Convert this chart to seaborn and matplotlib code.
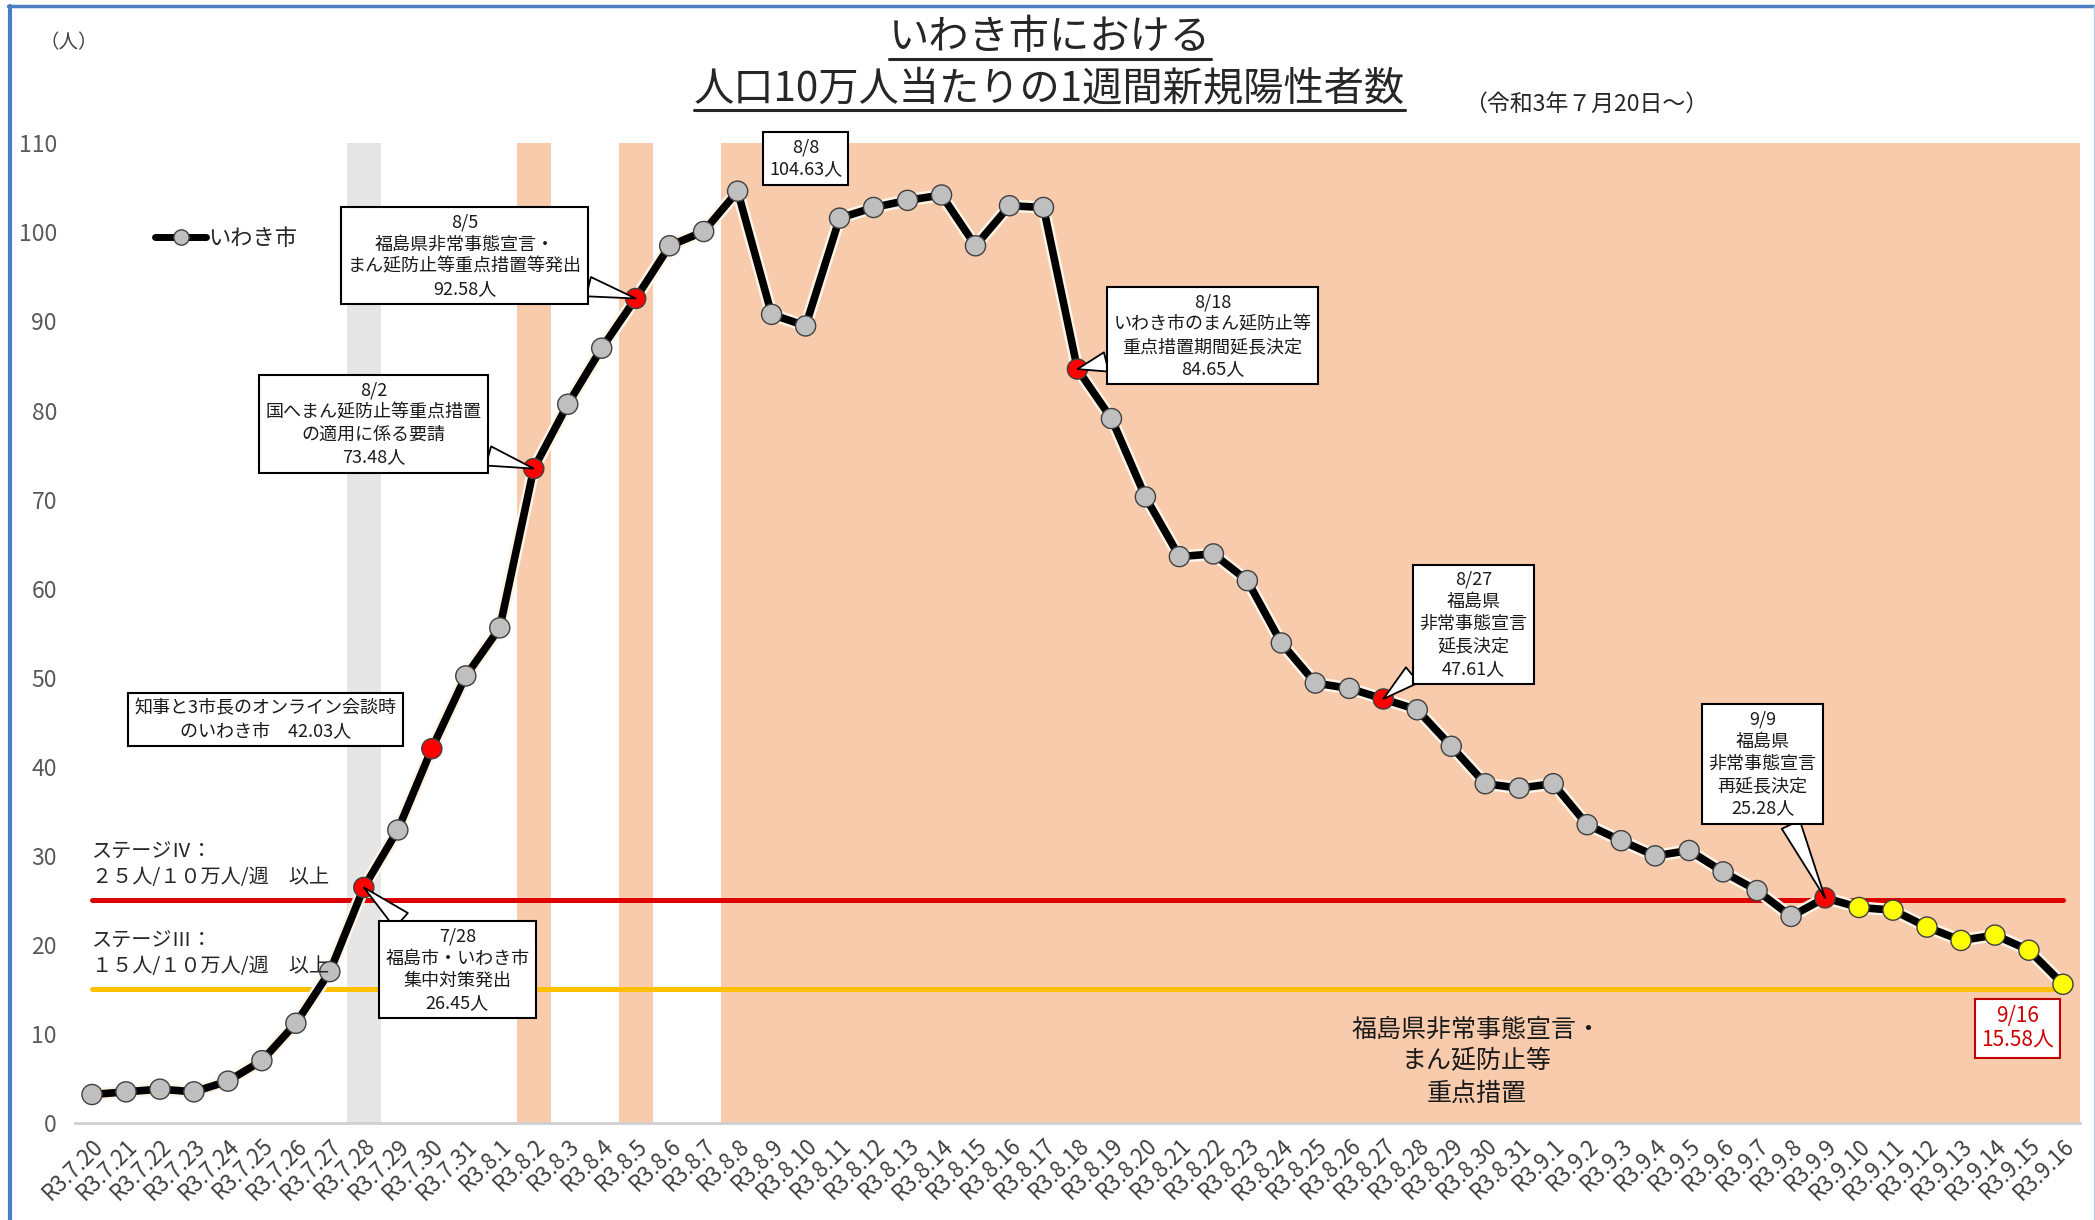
#!/usr/bin/env python3
import pandas as pd
import seaborn as sns
import matplotlib.pyplot as plt
import matplotlib.patheffects as pe
from matplotlib.lines import Line2D

# dates (R3 = 令和3年)
dates = ([f"R3.7.{d}" for d in range(20, 32)]
         + [f"R3.8.{d}" for d in range(1, 32)]
         + [f"R3.9.{d}" for d in range(1, 17)])

# weekly new positives per 100k people, iwaki city
values = [3.2, 3.5, 3.8, 3.5, 4.7, 7.0, 11.2, 17.0, 26.45, 32.9, 42.03, 50.2,
          55.6, 73.48, 80.7, 87.0, 92.58, 98.5, 100.1, 104.63, 90.8, 89.5,
          101.6, 102.8, 103.6, 104.2, 98.5, 103.0, 102.8, 84.65, 79.1, 70.3,
          63.6, 63.9, 60.9, 53.9, 49.4, 48.8, 47.61, 46.4, 42.3, 38.1, 37.6,
          38.1, 33.5, 31.7, 30.0, 30.6, 28.2, 26.1, 23.2, 25.28,
          24.2, 23.9, 22.0, 20.5, 21.1, 19.4, 15.58]

event_dates = ["R3.7.28", "R3.7.30", "R3.8.2", "R3.8.5", "R3.8.18", "R3.8.27", "R3.9.9"]
recent_from = "R3.9.10"

gray_days = ["R3.7.28"]
orange_days = ["R3.8.2", "R3.8.5"]
orange_from = "R3.8.8"

stage4 = 25
stage3 = 15

df = pd.DataFrame({'date': dates, 'value': values})
df['pos'] = range(len(df))
recent_idx = dates.index(recent_from)
df['kind'] = ['event' if d in event_dates else ('recent' if i >= recent_idx else 'normal')
              for i, d in enumerate(dates)]

sns.set_style('white')
plt.rcParams['font.family'] = ['Noto Sans CJK JP', 'DejaVu Sans']

fig = plt.figure(figsize=(20.95, 12.2), dpi=100)
ax = fig.add_axes([0.0358, 0.0795, 0.957, 0.803])

# shaded periods
for d in gray_days:
    i = dates.index(d)
    ax.axvspan(i - 0.5, i + 0.5, color='#E6E6E6', lw=0, zorder=0)
for d in orange_days:
    i = dates.index(d)
    ax.axvspan(i - 0.5, i + 0.5, color='#F8CBAD', lw=0, zorder=0)
ax.axvspan(dates.index(orange_from) - 0.5, len(dates) - 0.5, color='#F8CBAD', lw=0, zorder=0)

# stage lines
ax.plot([0, len(dates) - 1], [stage4, stage4], color='#DD0000', lw=3.6, zorder=2, solid_capstyle='round')
ax.plot([0, len(dates) - 1], [stage3, stage3], color='#FFC000', lw=3.6, zorder=2, solid_capstyle='round')

# main line
sns.lineplot(data=df, x='pos', y='value', color='black', lw=5.5, ax=ax, zorder=3,
             path_effects=[pe.Stroke(linewidth=9, foreground='#FFF4E6'), pe.Normal()])
sns.scatterplot(data=df, x='pos', y='value', hue='kind',
                palette={'normal': '#BFBFBF', 'event': '#FF0000', 'recent': '#FFFF00'},
                s=210, edgecolor='#404040', linewidth=1.0, legend=False, ax=ax, zorder=4)

ax.set_xlim(-0.5, len(dates) - 0.5)
ax.set_ylim(0, 110)
ax.set_yticks(range(0, 111, 10))
ax.set_xticks(range(len(dates)))
ax.set_xticklabels(dates, rotation=45, ha='right', rotation_mode='anchor',
                   fontsize=16, color='#404040')
ax.set_xticks([i + 0.5 for i in range(-1, len(dates))], minor=True)
ax.tick_params(axis='x', which='major', length=0, pad=8)
ax.tick_params(axis='x', which='minor', length=5, width=1.5, color='#D0D0D0', direction='out')
ax.tick_params(axis='y', length=0, pad=13, labelsize=16.5, labelcolor='#595959')
ax.set_xlabel('')
ax.set_ylabel('')
for s in ['top', 'right', 'left']:
    ax.spines[s].set_visible(False)
ax.spines['bottom'].set_color('#D0D0D0')
ax.spines['bottom'].set_linewidth(2)

# legend
handle = Line2D([], [], color='black', lw=5, marker='o', markersize=11,
                markerfacecolor='#BFBFBF', markeredgecolor='#404040')
ax.legend([handle], ['いわき市'], loc='center left', bbox_to_anchor=(0.040, 0.903),
          frameon=False, fontsize=16, handlelength=2.3, handletextpad=0.1,
          borderpad=0, borderaxespad=0)

box = dict(boxstyle='square,pad=0.35', fc='white', ec='black', lw=1.5)
txt_kw = dict(fontsize=13, ha='center', va='center', linespacing=1.3, color='#1A1A1A', zorder=6)
arrow = dict(arrowstyle='wedge,tail_width=1.1', fc='white', ec='black', lw=1.3, shrinkA=0, shrinkB=0)

# callouts pointing at points
callouts = [
    ("R3.8.5", "8/5\n福島県非常事態宣言・\nまん延防止等重点措置等発出\n92.58人", (10.96, 97.4)),
    ("R3.8.2", "8/2\n国へまん延防止等重点措置\nの適用に係る要請\n73.48人", (8.28, 78.5)),
    ("R3.8.18", "8/18\nいわき市のまん延防止等\n重点措置期間延長決定\n84.65人", (32.97, 88.4)),
    ("R3.7.28", "7/28\n福島市・いわき市\n集中対策発出\n26.45人", (10.75, 17.2)),
    ("R3.8.27", "8/27\n福島県\n非常事態宣言\n延長決定\n47.61人", (40.65, 56.0)),
    ("R3.9.9", "9/9\n福島県\n非常事態宣言\n再延長決定\n25.28人", (49.16, 40.3)),
]
for d, label, xytext in callouts:
    i = dates.index(d)
    ax.annotate(label, xy=(i, values[i]), xytext=xytext, textcoords='data',
                bbox=box, arrowprops=arrow, **txt_kw)

ax.text(21.0, 108.3, "8/8\n104.63人", bbox=box, clip_on=False, **txt_kw)
ax.text(5.10, 45.3, "知事と3市長のオンライン会談時\nのいわき市　42.03人", bbox=box, **txt_kw)
ax.text(56.66, 10.6, "9/16\n15.58人", fontsize=15, ha='center', va='center', linespacing=1.15,
        color='#D00000', zorder=6,
        bbox=dict(boxstyle='square,pad=0.28', fc='white', ec='#C00000', lw=1.5))

ax.text(40.75, 6.9, "福島県非常事態宣言・\nまん延防止等\n重点措置", fontsize=18, ha='center', va='center',
        linespacing=1.3, color='#1A1A1A', zorder=5)

ax.text(0.0, 29.0, "ステージⅣ：\n２５人/１０万人/週　以上", fontsize=14.5, ha='left', va='center',
        linespacing=1.25, color='#262626', zorder=5)
ax.text(0.0, 19.0, "ステージⅢ：\n１５人/１０万人/週　以上", fontsize=14.5, ha='left', va='center',
        linespacing=1.25, color='#262626', zorder=5)

# titles and unit
t1 = fig.text(0.501, 1 - 37 / 1220, "いわき市における", fontsize=29, ha='center', va='center', color='#262626')
t2 = fig.text(0.501, 1 - 89 / 1220, "人口10万人当たりの1週間新規陽性者数", fontsize=29, ha='center',
              va='center', color='#262626')
fig.text(0.699, 1 - 104 / 1220, "（令和3年７月20日～）", fontsize=16.5, ha='left', va='center', color='#262626')
fig.text(0.033, 1 - 43 / 1220, "（人）", fontsize=14, ha='center', va='center', color='#404040')

# underline titles
fig.canvas.draw()
renderer = fig.canvas.get_renderer()
inv = fig.transFigure.inverted()
for t, uy in ((t1, 59), (t2, 110)):
    bb = t.get_window_extent(renderer)
    x0 = inv.transform((bb.x0, 0))[0]
    x1 = inv.transform((bb.x1, 0))[0]
    fig.add_artist(Line2D([x0, x1], [1 - uy / 1220] * 2, color='#262626', lw=2.2))

# outer frame
fig.add_artist(Line2D([0.004, 1.0], [1 - 6 / 1220, 1 - 6 / 1220], color='#4A7FC1', lw=2.5))
fig.add_artist(Line2D([0.0048, 0.0048], [0.0, 1 - 6 / 1220], color='#4A7FC1', lw=3))
fig.add_artist(Line2D([0.9993, 0.9993], [0.0, 1 - 6 / 1220], color='#B8CCE4', lw=1))

fig.savefig('out.png', dpi=100)
